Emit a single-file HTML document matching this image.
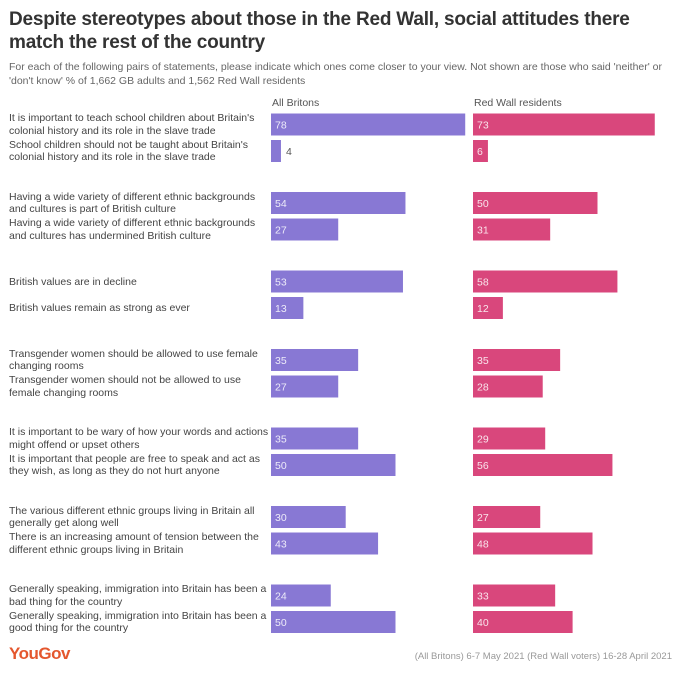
<!DOCTYPE html>
<html><head><meta charset="utf-8"><style>
body{margin:0;background:#fff;width:680px;height:673px;overflow:hidden;font-family:"Liberation Sans",sans-serif;}
#title{position:absolute;left:9px;top:8px;font-size:19px;font-weight:bold;color:#333;line-height:23px;letter-spacing:-0.2px;}
#sub{position:absolute;left:9px;top:60px;font-size:10.5px;color:#666;line-height:14px;width:670px;}
.hdr{position:absolute;top:97px;font-size:10.5px;color:#555;}
.lbl{position:absolute;left:9px;font-size:10.5px;color:#444;line-height:12.5px;width:262px;}
#logo{position:absolute;left:9px;top:644px;font-size:17px;font-weight:bold;color:#e4572e;letter-spacing:-0.5px;}
#src{position:absolute;right:8px;top:651px;font-size:9.5px;color:#999;}
</style></head><body>
<div id="title">Despite stereotypes about those in the Red Wall, social attitudes there<br>match the rest of the country</div>
<div id="sub">For each of the following pairs of statements, please indicate which ones come closer to your view. Not shown are those who said 'neither' or 'don't know' % of 1,662 GB adults and 1,562 Red Wall residents</div>
<div class="hdr" style="left:272px">All Britons</div>
<div class="hdr" style="left:474px">Red Wall residents</div>
<div id="labels"></div>
<svg id="chart" width="680" height="673" style="position:absolute;left:0;top:0"></svg>
<div id="logo">YouGov</div>
<div id="src">(All Britons) 6-7 May 2021 (Red Wall voters) 16-28 April 2021</div>
<script>
const statements=[
"It is important to teach school children about Britain's colonial history and its role in the slave trade",
"School children should not be taught about Britain's colonial history and its role in the slave trade",
"Having a wide variety of different ethnic backgrounds and cultures is part of British culture",
"Having a wide variety of different ethnic backgrounds and cultures has undermined British culture",
"British values are in decline",
"British values remain as strong as ever",
"Transgender women should be allowed to use female changing rooms",
"Transgender women should not be allowed to use female changing rooms",
"It is important to be wary of how your words and actions might offend or upset others",
"It is important that people are free to speak and act as they wish, as long as they do not hurt anyone",
"The various different ethnic groups living in Britain all generally get along well",
"There is an increasing amount of tension between the different ethnic groups living in Britain",
"Generally speaking, immigration into Britain has been a bad thing for the country",
"Generally speaking, immigration into Britain has been a good thing for the country"];
const labelLines=[
["It is important to teach school children about Britain's","colonial history and its role in the slave trade"],
["School children should not be taught about Britain's","colonial history and its role in the slave trade"],
["Having a wide variety of different ethnic backgrounds","and cultures is part of British culture"],
["Having a wide variety of different ethnic backgrounds","and cultures has undermined British culture"],
["British values are in decline"],
["British values remain as strong as ever"],
["Transgender women should be allowed to use female","changing rooms"],
["Transgender women should not be allowed to use","female changing rooms"],
["It is important to be wary of how your words and actions","might offend or upset others"],
["It is important that people are free to speak and act as","they wish, as long as they do not hurt anyone"],
["The various different ethnic groups living in Britain all","generally get along well"],
["There is an increasing amount of tension between the","different ethnic groups living in Britain"],
["Generally speaking, immigration into Britain has been a","bad thing for the country"],
["Generally speaking, immigration into Britain has been a","good thing for the country"]];
const allBritons=[78,4,54,27,53,13,35,27,35,50,30,43,24,50];
const redWall=[73,6,50,31,58,12,35,28,29,56,27,48,33,40];
const svg=document.getElementById('chart');
const NS='http://www.w3.org/2000/svg';
const scale=v=>v*2.49;
const rowY=i=>113.5+Math.floor(i/2)*78.5+(i%2)*26.5;
const BH=22;
function bar(x0,v,y,color,name,outsideSmall){
  const r=document.createElementNS(NS,'rect');
  r.setAttribute('x',x0);r.setAttribute('y',y);r.setAttribute('width',scale(v));r.setAttribute('height',BH);r.setAttribute('fill',color);
  
  
  svg.appendChild(r);
  const t=document.createElementNS(NS,'text');
  const out=outsideSmall&&scale(v)<16;
  t.setAttribute('x',out?x0+scale(v)+5:x0+4);t.setAttribute('y',y+15);
  t.setAttribute('font-size','10.5');t.setAttribute('font-family','Liberation Sans, sans-serif');
  t.setAttribute('fill',out?'#555':'#fff');t.setAttribute('fill-opacity',out?'1':'0.85');
  t.textContent=v;
  
  
  svg.appendChild(t);
}
const L=document.getElementById('labels');
statements.forEach((s,i)=>{
  const y=rowY(i);
  bar(271,allBritons[i],y,'#8878d4','all-britons-bar-'+(i+1),true);
  bar(473,redWall[i],y,'#d9477c','red-wall-bar-'+(i+1),false);
  const d=document.createElement('div');
  d.className='lbl';
  const lines=labelLines[i];
  d.style.top=(lines.length===1?y+5:y-1.5)+'px';
  d.innerHTML=lines.join('<br>');
  d.title=s;
  
  
  L.appendChild(d);
});
</script>
</body></html>
